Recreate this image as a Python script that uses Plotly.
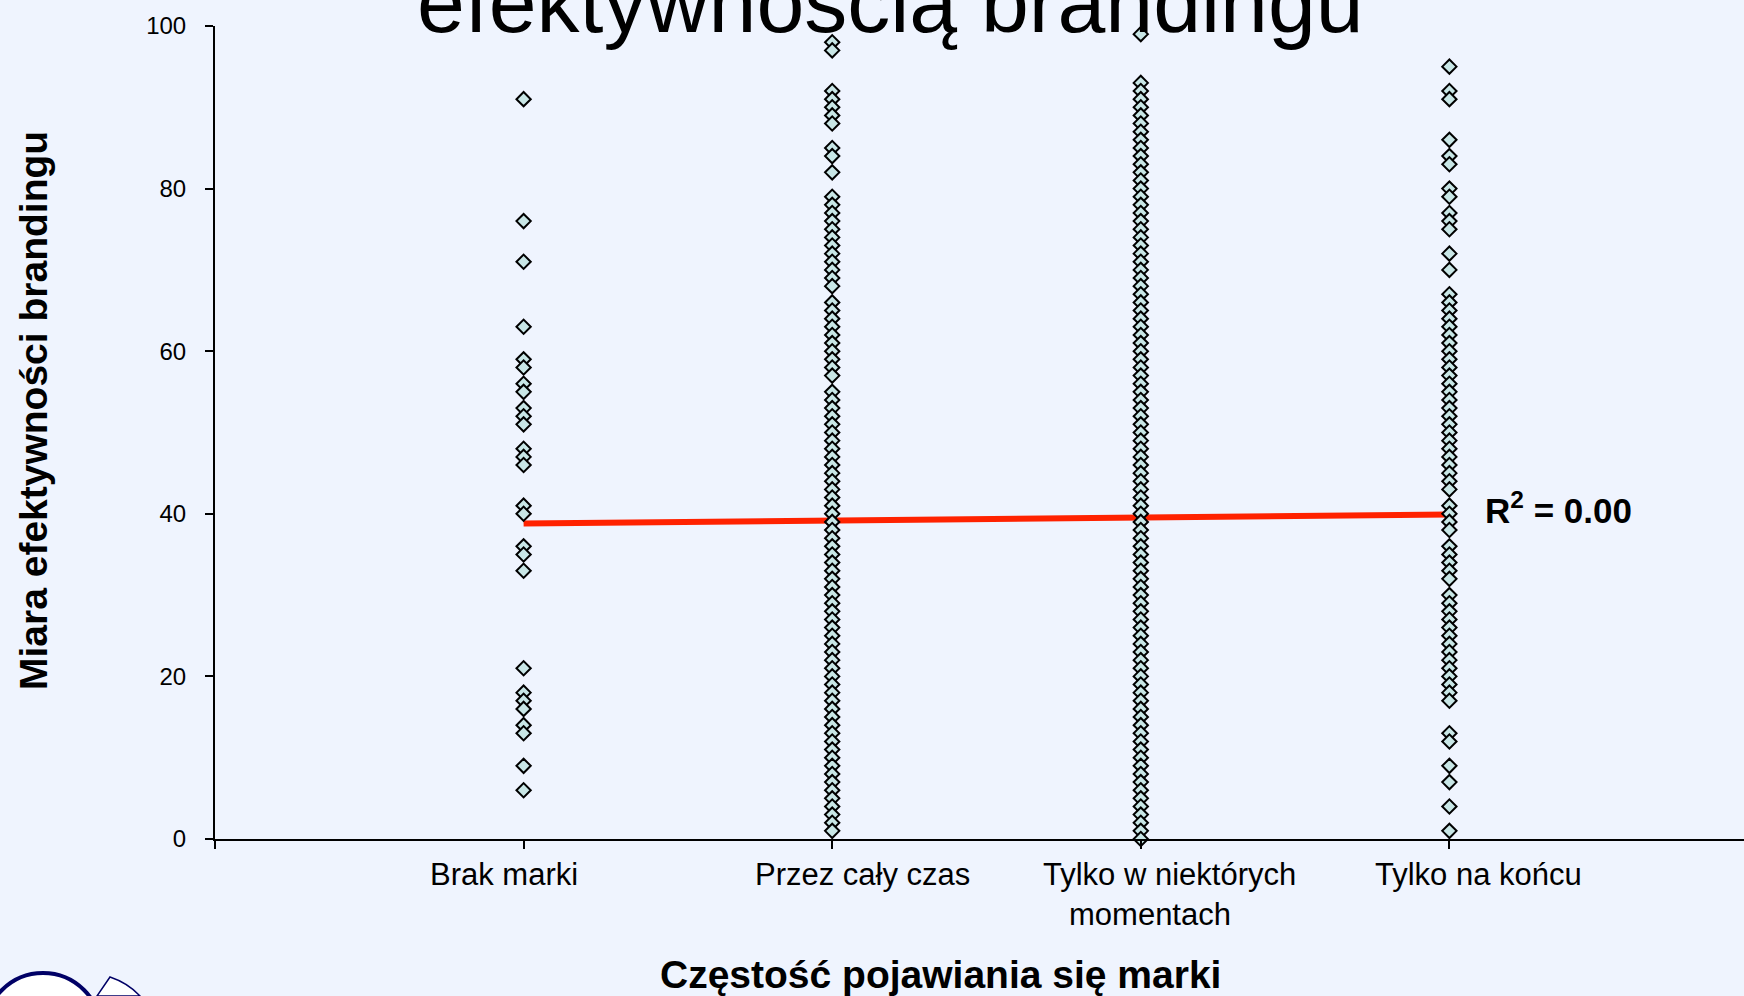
import plotly.graph_objects as go

# ---------------- data ----------------
categories = ["Brak marki", "Przez cały czas", "Tylko w niektórych momentach", "Tylko na końcu"]

brak_marki = [91, 76, 71, 63, 59, 58, 56, 55, 53, 52, 51, 48, 47, 46, 41, 40, 36, 35, 33,
              21, 18, 17, 16, 14, 13, 9, 6]

przez_caly_czas = [98, 97, 92, 91, 90, 89, 88, 85, 84, 82, 79, 78, 77, 76, 75, 74, 73, 72,
                   71, 70, 69, 68, 66, 65, 64, 63, 62, 61, 60, 59, 58, 57, 55, 54, 53, 52,
                   51, 50, 49, 48, 47, 46, 45, 44, 43, 42, 41, 40, 39, 38, 37, 36, 35, 34,
                   33, 32, 31, 30, 29, 28, 27, 26, 25, 24, 23, 22, 21, 20, 19, 18, 17, 16,
                   15, 14, 13, 12, 11, 10, 9, 8, 7, 6, 5, 4, 3, 2, 1]

tylko_w_niektorych = [99, 93, 92, 91, 90, 89, 88, 87, 86, 85, 84, 83, 82, 81, 80, 79, 78, 77,
                      76, 75, 74, 73, 72, 71, 70, 69, 68, 67, 66, 65, 64, 63, 62, 61, 60, 59,
                      58, 57, 56, 55, 54, 53, 52, 51, 50, 49, 48, 47, 46, 45, 44, 43, 42, 41,
                      40, 39, 38, 37, 36, 35, 34, 33, 32, 31, 30, 29, 28, 27, 26, 25, 24, 23,
                      22, 21, 20, 19, 18, 17, 16, 15, 14, 13, 12, 11, 10, 9, 8, 7, 6, 5, 4,
                      3, 2, 1, 0]

tylko_na_koncu = [95, 92, 91, 86, 84, 83, 80, 79, 77, 76, 75, 72, 70, 67, 66, 65, 64, 63, 62,
                  61, 60, 59, 58, 57, 56, 55, 54, 53, 52, 51, 50, 49, 48, 47, 46, 45, 44, 43,
                  41, 40, 39, 38, 36, 35, 34, 33, 32, 30, 29, 28, 27, 26, 25, 24, 23, 22, 21,
                  20, 19, 18, 17, 13, 12, 9, 7, 4, 1]

series = [brak_marki, przez_caly_czas, tylko_w_niektorych, tylko_na_koncu]

trend_x = [1, 4]
trend_y = [38.8, 39.9]
r2_text = "R<sup>2</sup> = 0.00"

y_ticks = [0, 20, 40, 60, 80, 100]

title_text = "efektywnością brandingu"
x_title = "Częstość pojawiania się marki"
y_title = "Miara efektywności brandingu"

# ---------------- layout constants ----------------
W, H = 1744, 996
ML, MR, MT, MB = 215, 0, 26, 157
PW = W - ML - MR
PH = H - MT - MB
BG = "#EFF4FE"
FONT = "Liberation Sans, Arial, sans-serif"

def px2paper(px, py):
    return (px - ML) / PW, (H - MB - py) / PH

fig = go.Figure()

xs, ys = [], []
for i, vals in enumerate(series):
    xs += [i + 1] * len(vals)
    ys += vals

fig.add_trace(go.Scatter(
    x=trend_x, y=trend_y, mode="lines",
    line=dict(color="#FF2200", width=6),
    hoverinfo="skip", showlegend=False, cliponaxis=False,
))

fig.add_trace(go.Scatter(
    x=xs, y=ys, mode="markers",
    marker=dict(symbol="diamond", size=11, color="#C8E6E6",
                line=dict(color="black", width=2)),
    showlegend=False, cliponaxis=False,
))

annotations = []
# title (partly cut off at the top)
annotations.append(dict(
    text=title_text, xref="paper", yref="paper", x=0.4416, y=1,
    xanchor="center", yanchor="middle", yshift=24, showarrow=False,
    font=dict(family=FONT, size=86, color="black"),
))
# category labels
label_pos = [
    (0.937, -35, "Brak marki"),
    (2.097, -35, "Przez cały czas"),
    (3.092, -35, "Tylko w niektórych"),
    (3.03, -75, "momentach"),
    (4.094, -35, "Tylko na końcu"),
]
for lx, sh, txt in label_pos:
    annotations.append(dict(
        text=txt, xref="x", yref="paper", x=lx, y=0, yshift=sh,
        xanchor="center", yanchor="middle", showarrow=False,
        font=dict(family=FONT, size=31, color="black"),
    ))
# axis titles
annotations.append(dict(
    text="<b>" + x_title + "</b>", xref="paper", yref="paper", x=0.4743, y=0,
    yshift=-135, xanchor="center", yanchor="middle", showarrow=False,
    font=dict(family=FONT, size=39, color="black"),
))
yx, yy = px2paper(33, 411)
annotations.append(dict(
    text="<b>" + y_title + "</b>", xref="paper", yref="paper", x=yx, y=yy,
    xanchor="center", yanchor="middle", textangle=-90, showarrow=False,
    font=dict(family=FONT, size=39, color="black"),
))
# R^2 label
annotations.append(dict(
    text="<b>" + r2_text + "</b>", xref="x", yref="y", x=4.11, y=40.7,
    xanchor="left", yanchor="middle", showarrow=False,
    font=dict(family=FONT, size=35, color="black"),
))

# logo fragment in the bottom-left corner
cx0, cy0 = px2paper(-15, 973)
cx1, cy1 = px2paper(101, 1089)
pts = [(110, 977), (97, 996), (140, 996)]
def P(p):
    a, b = px2paper(*p)
    return f"{a:.5f},{b:.5f}"
qa = px2paper(128, 983)
wedge = f"M{P(pts[0])} L{P(pts[1])} L{P(pts[2])} Q{qa[0]:.5f},{qa[1]:.5f} {P(pts[0])} Z"
shapes = [
    dict(type="circle", xref="paper", yref="paper", x0=cx0, y0=cy0, x1=cx1, y1=cy1,
         line=dict(color="#000066", width=4), fillcolor="white", layer="above"),
    dict(type="path", xref="paper", yref="paper", path=wedge,
         line=dict(color="#000066", width=1.5), fillcolor="white", layer="above"),
]

fig.update_layout(
    width=W, height=H,
    margin=dict(l=ML, r=MR, t=MT, b=MB, pad=0),
    paper_bgcolor=BG, plot_bgcolor=BG,
    font=dict(family=FONT, color="black"),
    annotations=annotations, shapes=shapes,
    xaxis=dict(range=[0, PW / 308.6], showgrid=False, zeroline=False,
               showline=True, linecolor="black", linewidth=2,
               tickmode="array", tickvals=[0, 1, 2, 3, 4], showticklabels=False,
               ticks="outside", ticklen=8, tickwidth=2, tickcolor="black",
               fixedrange=True),
    yaxis=dict(range=[0, 100], showgrid=False, zeroline=False,
               showline=True, linecolor="black", linewidth=2,
               tickmode="array", tickvals=y_ticks, ticks="outside", ticklen=8,
               tickwidth=2, tickcolor="black", ticklabelstandoff=14,
               tickfont=dict(family=FONT, size=24, color="black"),
               fixedrange=True),
)

fig.write_html(
    "out.html",
    config={"displayModeBar": False},
    post_script="document.body.style.margin='0';document.body.style.overflow='hidden';",
)
